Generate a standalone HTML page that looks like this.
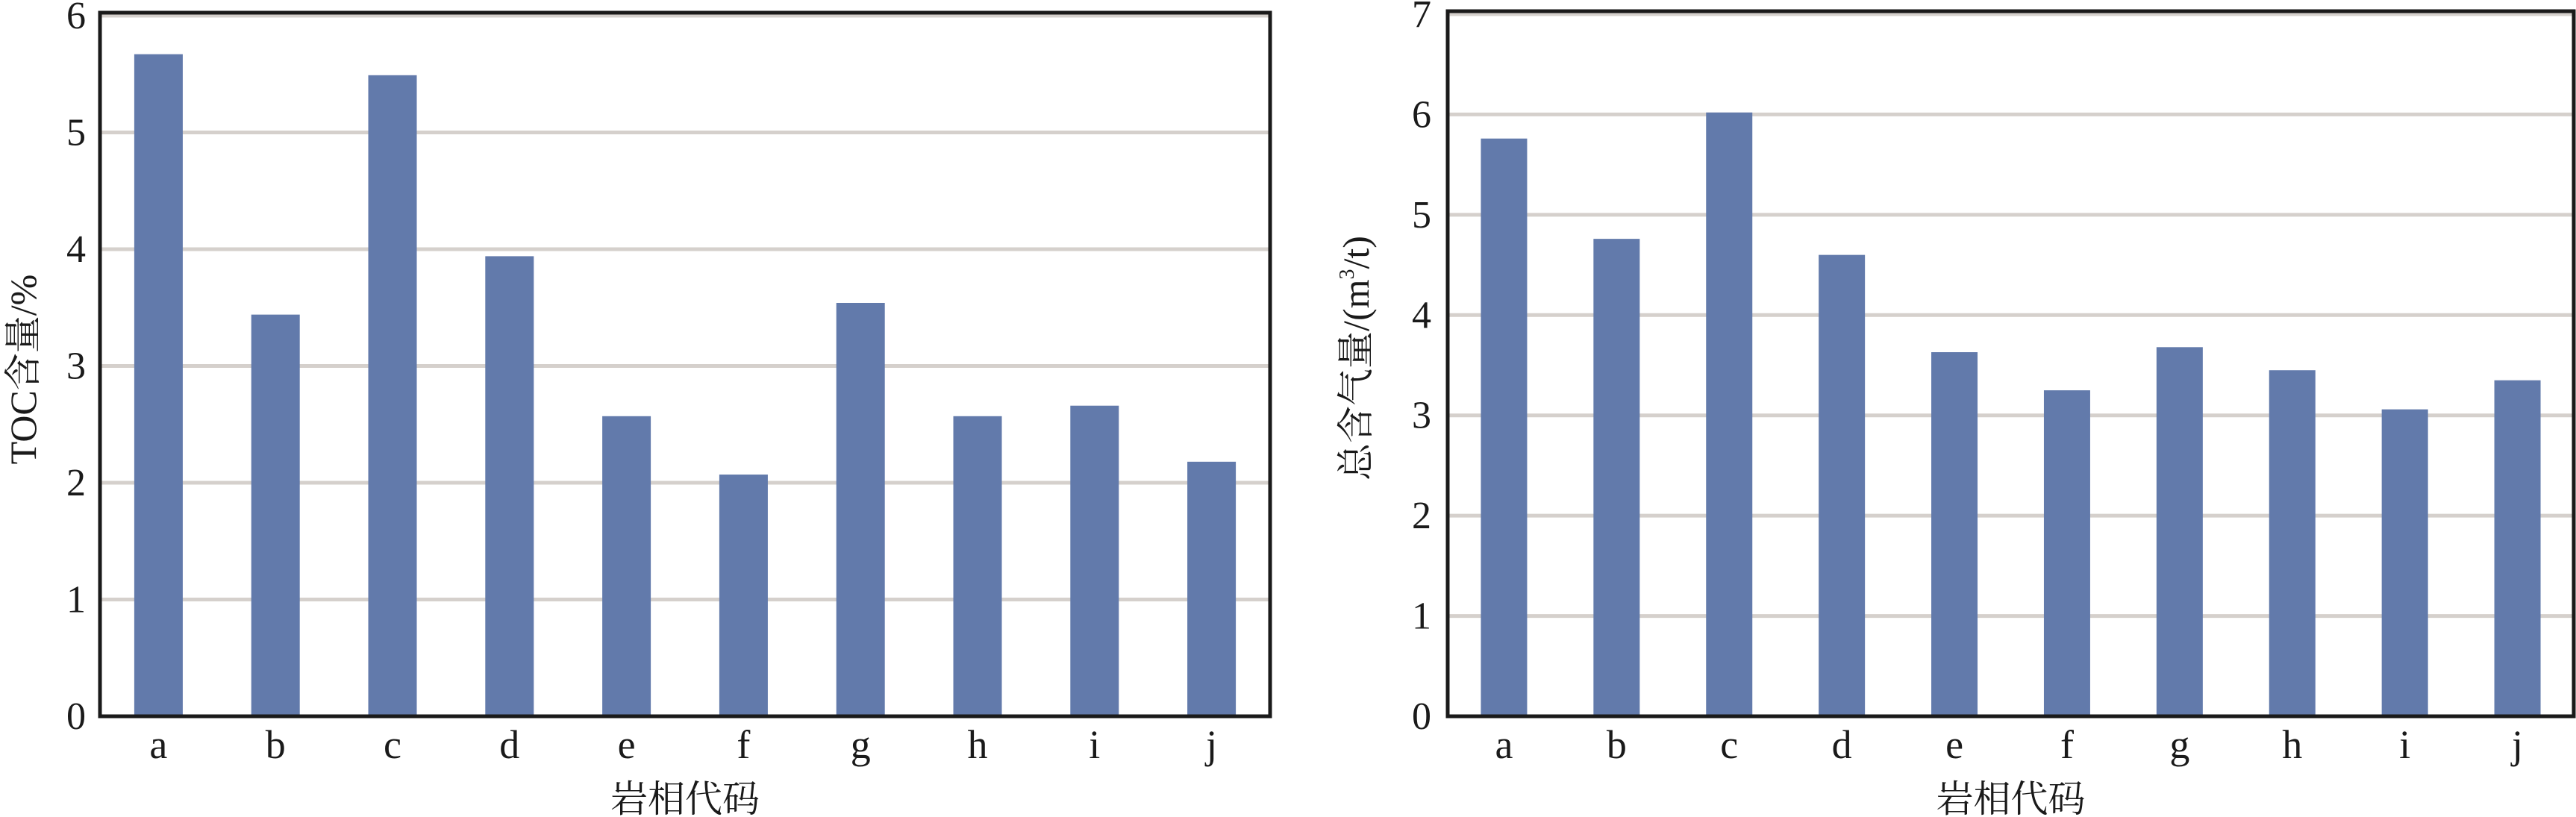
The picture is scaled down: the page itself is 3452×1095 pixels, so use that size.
<!DOCTYPE html>
<html><head><meta charset="utf-8"><style>html,body{margin:0;padding:0;background:#fff}svg{display:block}</style></head>
<body>
<svg id="chart" width="3452" height="1095" xmlns="http://www.w3.org/2000/svg"></svg>
<script>
const categories = ['a','b','c','d','e','f','g','h','i','j'];
const tocValues = [5.67,3.44,5.49,3.94,2.57,2.07,3.54,2.57,2.66,2.18];
const gasValues = [5.76,4.76,6.02,4.60,3.63,3.25,3.68,3.45,3.06,3.35];
const tocTicks = [0,1,2,3,4,5,6];
const gasTicks = [0,1,2,3,4,5,6,7];
const NS='http://www.w3.org/2000/svg';
const svg=document.getElementById('chart');
function mk(tag,attrs,parent){const e=document.createElementNS(NS,tag);for(const k in attrs)e.setAttribute(k,attrs[k]);(parent||svg).appendChild(e);return e;}
function panel(cfg){
  const g=mk('g',{});
  
  
  const yMax=cfg.ticks[cfg.ticks.length-1];
  const y=v=>cfg.y0-(cfg.y0-cfg.yTop)*v/yMax;
  const band=(cfg.x1-cfg.x0)/categories.length;
  const xc=i=>cfg.x0+band*(i+0.5);
  cfg.ticks.forEach(t=>{
    if(t>0){const l=mk('line',{x1:cfg.x0,x2:cfg.x1,y1:y(t),y2:y(t),stroke:'#d5d0cc','stroke-width':5},g);
    }
    const tx=mk('text',{x:cfg.tickX,y:y(t)+17,'text-anchor':'end','font-family':'Liberation Serif, serif','font-size':52,fill:'#1a1a1a'},g);
    tx.textContent=t;
    
  });
  cfg.values.forEach((v,i)=>{
    const r=mk('rect',{x:xc(i)-cfg.bw/2,y:y(v),width:cfg.bw,height:cfg.y0-y(v),fill:'#627aab'},g);
    
    const tl=mk('text',{x:xc(i),y:1016,'text-anchor':'middle','font-family':'Liberation Serif, serif','font-size':54,fill:'#1a1a1a'},g);
    tl.textContent=categories[i];
    
  });
  const f=mk('rect',{x:cfg.x0,y:cfg.yTop-4,width:cfg.x1-cfg.x0,height:cfg.y0-cfg.yTop+4,fill:'none',stroke:'#1a1a1a','stroke-width':5},g);
  
  const xt=mk('text',{x:(cfg.x0+cfg.x1)/2,y:1088,'text-anchor':'middle','font-family':'Liberation Serif, Noto Serif CJK SC, serif','font-size':50,fill:'#1a1a1a'},g);
  xt.textContent='岩相代码';
  
  const yt=mk('text',{x:0,y:0,'text-anchor':'middle','font-family':'Liberation Serif, Noto Serif CJK SC, serif','font-size':50,fill:'#1a1a1a',transform:'translate('+cfg.titleX+','+cfg.titleY+') rotate(-90)'},g);
  yt.innerHTML=cfg.title;
  
}
panel({name:'toc-chart',values:tocValues,ticks:tocTicks,x0:134,x1:1702,yTop:21,y0:960,bw:65,tickX:115,titleX:48,titleY:495,title:'TOC含量/%'});
panel({name:'gas-chart',values:gasValues,ticks:gasTicks,x0:1940,x1:3449,yTop:19,y0:960,bw:62,tickX:1918,titleX:1834,titleY:480,title:'总含气量/(m<tspan font-size="28" dy="-20">3</tspan><tspan dy="20">/t)</tspan>'});
</script>
</body></html>
